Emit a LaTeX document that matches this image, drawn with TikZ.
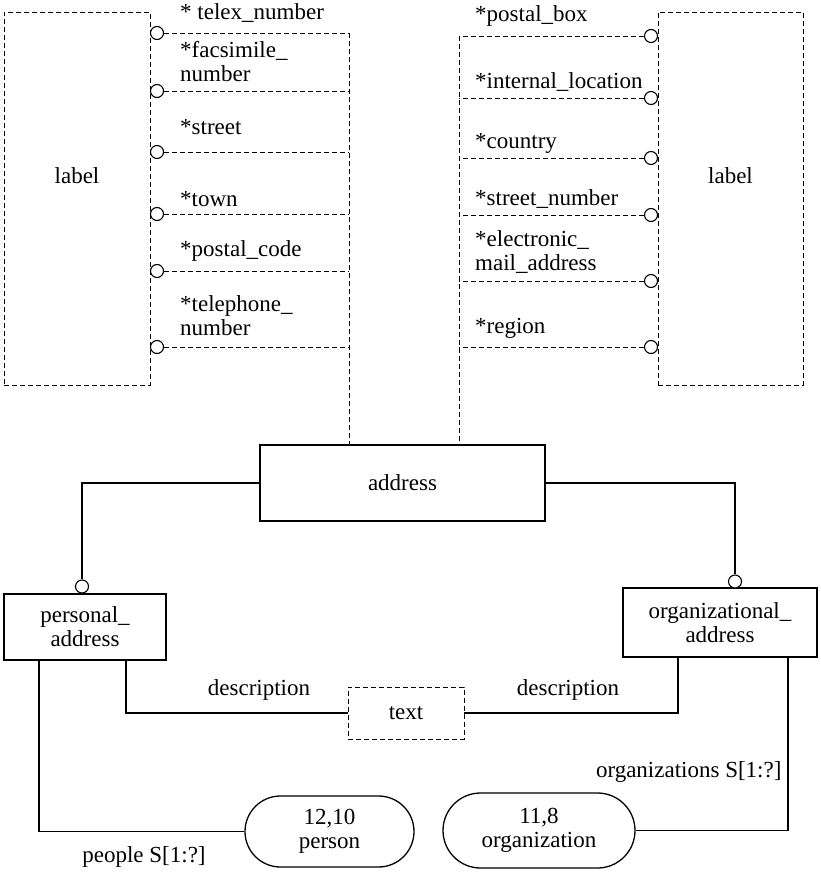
\documentclass[tikz,border=0pt]{standalone}
\usepackage{fontspec}
\setmainfont{Liberation Serif}
\newfontfamily\dgserif{Liberation Serif}
\usetikzlibrary{shapes.misc}
\newcommand{\dgfont}{\dgserif\fontsize{23}{24}\selectfont}
\begin{document}
\begin{tikzpicture}[x=1pt,y=-1pt,
	every node/.style={font=\dgfont},
	dbox/.style={draw,dashed,dash pattern=on 5pt off 3pt,line width=0.9pt,inner sep=0pt},
	sbox/.style={draw,line width=1.3pt,inner sep=0pt,align=center},
	ring/.style={draw,circle,line width=1.1pt,minimum size=13pt,inner sep=0pt,fill=white},
	dline/.style={dash pattern=on 5pt off 3pt,line width=0.9pt},
	link/.style={line width=1.2pt},
	heavy/.style={line width=2.6pt},
	pill/.style={draw,rounded rectangle,line width=1.3pt,inner sep=0pt,align=center}]
				\useasboundingbox (0,0) rectangle (821,872);
				\node[dbox,minimum width=146pt,minimum height=373pt,label={[yshift=23pt]center:label}] (lblL) at (77,198.5) {};
				\node[dbox,minimum width=145pt,minimum height=373pt,label={[yshift=23pt]center:label}] (lblR) at (730.5,198.5) {};
				\node[sbox,minimum width=285pt,minimum height=76pt] (addr) at (402.5,483) {address};
				\coordinate (spl) at (349,33);
				\coordinate (spr) at (459,36);
				\draw[dline] (spl) -- (spl |- addr.north);
				\draw[dline] (spr) -- (spr |- addr.north);
				\foreach \i/\y/\ty/\t in {1/33/13/{* telex\_number},2/91/62/{*facsimile\_\\number},3/152/127/{*street},4/214/199/{*town},5/271/251/{*postal\_code},6/347/316/{*telephone\_\\number}}{
					\node[ring] (cl\i) at (157,\y) {};
					\draw[dline] (cl\i) -- (cl\i -| spl);
					\node[anchor=west,align=left,inner sep=0pt] (al\i) at (180,\ty) {\t};
				}
				\foreach \i/\y/\ty/\t in {1/36/16/{*postal\_box},2/98/82/{*internal\_location},3/158/143/{*country},4/215/199/{*street\_number},5/281/252/{*electronic\_\\mail\_address},6/347/328/{*region}}{
					\node[ring] (cr\i) at (651,\y) {};
					\draw[dline] (cr\i) -- (cr\i -| spr);
					\node[anchor=west,align=left,inner sep=0pt] (ar\i) at (475,\ty) {\t};
				}
				\node[sbox,minimum width=162pt,minimum height=66pt] (pa) at (85,627) {personal\_\\address};
				\node[sbox,minimum width=194pt,minimum height=69pt] (oa) at (720,622.5) {organizational\_\\address};
				\node[ring] (cpa) at (82,586.5) {};
				\node[ring] (coa) at (735,581.5) {};
				\draw[heavy] (addr.west) -| (cpa.north);
				\draw[heavy] (addr.east) -| (coa.north);
				\node[dbox,minimum width=116pt,minimum height=52pt] (txt) at (406,713) {text};
				\node[pill,minimum width=169pt,minimum height=71pt] (per) at (329.5,831.5) {12,10\\person};
				\node[pill,minimum width=192pt,minimum height=75pt] (org) at (539,830.5) {11,8\\organization};
				\draw[link] ([xshift=41pt]pa.south) |- (txt.west);
				\draw[link] (txt.east) -| ([xshift=-42pt]oa.south);
				\draw[link] ([xshift=-46pt]pa.south) |- (per.west);
				\draw[link] ([xshift=68pt]oa.south) |- (org.east);
				\node (dl) at (259,690) {description};
				\node (dr) at (568,690) {description};
				\node[anchor=east] (os) at (785,772) {organizations S[1:?]};
				\node (ps) at (144,857) {people S[1:?]};
			\end{tikzpicture}
\end{document}
